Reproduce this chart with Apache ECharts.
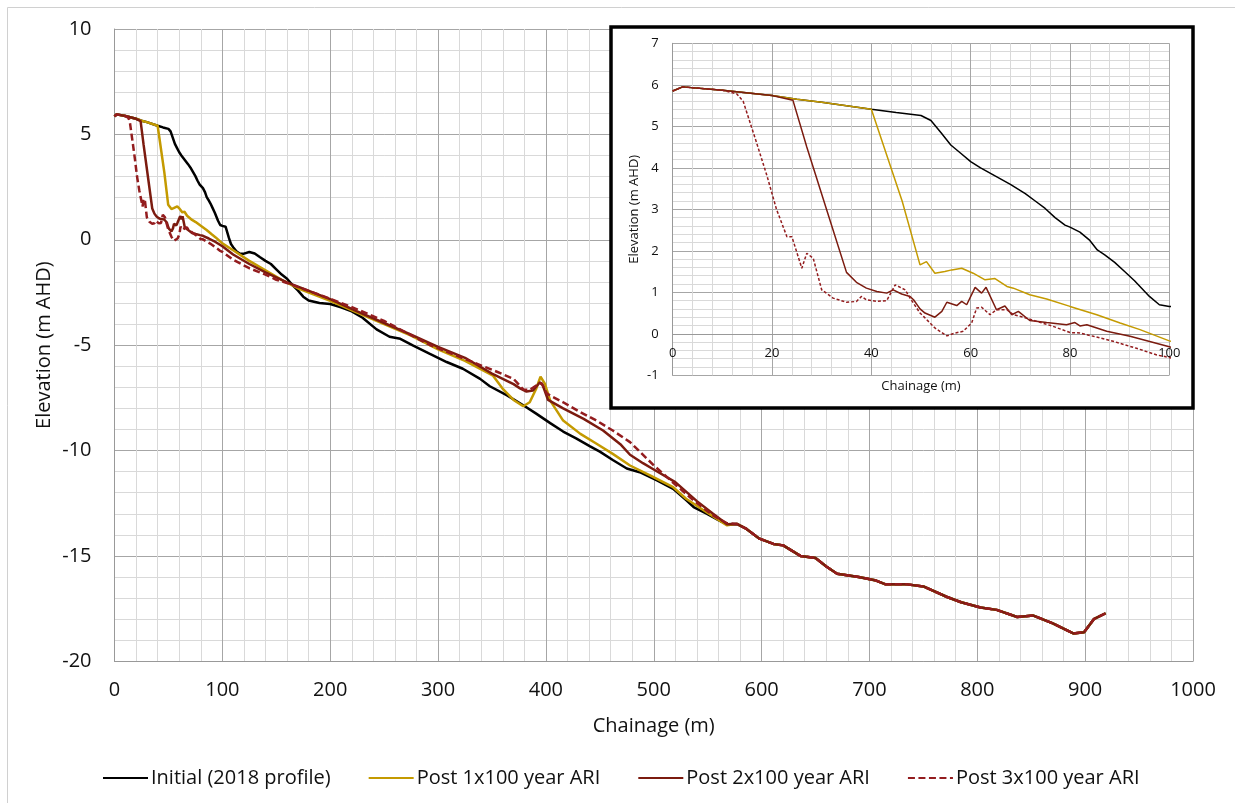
<!DOCTYPE html>
<html>
<head>
<meta charset="utf-8">
<script src="https://cdn.jsdelivr.net/npm/echarts@6/dist/echarts.min.js"></script>
<style>
  html, body { margin: 0; padding: 0; background: #ffffff; }
  #chart { width: 1235px; height: 803px; }
</style>
</head>
<body>
<div id="chart"></div>
<script>
// Beach profile survey: chainage (m) vs elevation (m AHD)
const seriesNames = ['Initial (2018 profile)', 'Post 1x100 year ARI', 'Post 2x100 year ARI', 'Post 3x100 year ARI'];

// Offshore section shared by every profile (no change past the bar)
const sharedToe = [
  [577, -13.48], [586, -13.72], [598, -14.18], [611, -14.43], [620, -14.5], [636, -15.0],
  [650, -15.1], [660, -15.5], [670, -15.85], [690, -16.0], [705, -16.15], [715, -16.35],
  [735, -16.35], [750, -16.45], [772, -16.95], [785, -17.2], [803, -17.45], [818, -17.56],
  [837, -17.9], [852, -17.83], [870, -18.2], [889, -18.68], [899, -18.62], [908, -18.0], [919, -17.72]
];

const initialProfile = [
  [0, 5.85], [2, 5.95], [10, 5.87], [20, 5.74], [25, 5.65], [30, 5.58], [40, 5.41], [45, 5.33],
  [50, 5.26], [52, 5.14], [54, 4.85], [56, 4.55], [58, 4.35], [60, 4.15], [62, 4.0], [65, 3.8],
  [68, 3.6], [71, 3.38], [73, 3.2], [75, 3.02], [77, 2.8], [79, 2.62], [80, 2.57], [82, 2.45],
  [84, 2.25], [85.5, 2.02], [87, 1.9], [89, 1.72], [91, 1.5], [93, 1.28], [96, 0.9], [98, 0.7],
  [100, 0.66], [103, 0.62], [106, 0.1], [108, -0.2], [110, -0.35], [113, -0.55], [116, -0.65],
  [120, -0.66], [125, -0.58], [130, -0.65], [135, -0.83], [140, -1.0], [145, -1.15], [150, -1.4],
  [155, -1.65], [160, -1.85], [165, -2.15], [170, -2.4], [175, -2.7], [180, -2.88], [190, -3.0],
  [200, -3.05], [210, -3.2], [220, -3.4], [230, -3.7], [243, -4.25], [255, -4.6], [265, -4.7],
  [277, -5.02], [292, -5.4], [308, -5.8], [323, -6.12], [339, -6.6], [348, -6.95], [364, -7.38],
  [379, -7.85], [391, -8.25], [404, -8.7], [416, -9.1], [428, -9.42], [441, -9.8], [450, -10.05],
  [462, -10.45], [475, -10.85], [487, -11.03], [503, -11.42], [518, -11.82], [530, -12.35],
  [537, -12.68], [549, -13.0], [560, -13.3], [568, -13.5]
];

const post1Profile = [
  [0, 5.85], [2, 5.95], [10, 5.87], [20, 5.74], [25, 5.65], [30, 5.58], [40, 5.41], [46.2, 3.2],
  [49.8, 1.66], [51.1, 1.74], [52.8, 1.46], [54.8, 1.5], [56.2, 1.54], [58.2, 1.58], [60.5, 1.46],
  [62.9, 1.3], [64.9, 1.33], [67.3, 1.14], [68.6, 1.1], [71.9, 0.94], [75.3, 0.84], [80, 0.66],
  [85.4, 0.46], [90.1, 0.26], [94.1, 0.1], [100, -0.17], [110, -0.5], [125, -1.0], [140, -1.45],
  [155, -1.9], [170, -2.3], [200, -2.9], [225, -3.45], [250, -4.0], [275, -4.55], [300, -5.2],
  [325, -5.75], [351, -6.45], [360.5, -7.1], [370, -7.6], [379, -7.9], [385, -7.71], [391, -7.07],
  [395, -6.49], [399, -6.83], [404, -7.63], [416, -8.58], [432, -9.21], [447, -9.68], [462, -10.16],
  [478, -10.71], [497, -11.19], [518, -11.74], [530, -12.29], [549, -12.93], [568, -13.55]
];

const post2Profile = [
  [0, 5.85], [2, 5.95], [10, 5.87], [20, 5.74], [24.2, 5.63], [27, 4.5], [31, 2.99], [35, 1.48],
  [37, 1.24], [39, 1.1], [41.1, 1.02], [43.1, 0.98], [44.4, 1.06], [46.1, 0.96], [47.8, 0.9],
  [48.5, 0.82], [49.8, 0.6], [50.8, 0.5], [52.8, 0.4], [54.2, 0.54], [55.2, 0.76], [57.2, 0.68],
  [58.2, 0.78], [59.2, 0.7], [60.9, 1.12], [62.2, 0.98], [63.1, 1.12], [65.2, 0.58], [66.9, 0.67],
  [68.3, 0.46], [69.6, 0.54], [71.9, 0.32], [75.3, 0.27], [79.3, 0.22], [81, 0.27], [82, 0.19],
  [83.4, 0.22], [87.4, 0.06], [92.1, -0.06], [100, -0.31], [110, -0.7], [125, -1.15], [140, -1.55],
  [160, -2.02], [200, -2.82], [225, -3.4], [250, -3.95], [275, -4.5], [300, -5.08], [325, -5.6],
  [350, -6.35], [360, -6.6], [370, -6.85], [376, -7.05], [382, -7.2], [388, -7.15], [394.5, -6.76],
  [397, -6.9], [402, -7.6], [416, -8.0], [435, -8.5], [453, -9.05], [469, -9.7], [478, -10.2],
  [490, -10.6], [500, -10.9], [520, -11.5], [540, -12.4], [555, -13.0], [568, -13.5]
];

const post3Profile = [
  [0, 5.85], [2, 5.95], [10, 5.87], [12.9, 5.78], [14.2, 5.6], [16.9, 4.6], [19, 3.8], [20.9, 3.0],
  [23, 2.34], [24, 2.34], [26, 1.58], [27, 1.94], [28.3, 1.82], [30, 1.06], [32.3, 0.86], [35, 0.76],
  [37, 0.78], [38, 0.9], [39, 0.82], [41.1, 0.78], [43.1, 0.8], [44.8, 1.18], [46.8, 1.06],
  [47.8, 0.86], [49.8, 0.5], [50.5, 0.42], [52.8, 0.14], [55.2, -0.05], [56.9, 0.02], [58.5, 0.06],
  [60.2, 0.26], [61.2, 0.62], [62.2, 0.64], [63.9, 0.46], [65.2, 0.58], [67.3, 0.58], [68.6, 0.46],
  [70.6, 0.4], [73.3, 0.3], [76.6, 0.18], [80, 0.03], [82, 0.02], [84.7, -0.06], [88.7, -0.18],
  [93.4, -0.35], [97.5, -0.51], [100, -0.57], [110, -0.95], [125, -1.35], [140, -1.65], [150, -1.9],
  [160, -2.05], [200, -2.8], [225, -3.3], [250, -3.85], [274, -4.5], [292, -4.98], [323, -5.62],
  [354, -6.25], [370, -6.6], [379, -7.1], [385, -7.12], [391, -6.92], [396, -6.8], [401, -7.3],
  [404, -7.39], [416, -7.71], [432, -8.18], [447, -8.58], [462, -9.05], [478, -9.6], [500, -10.7],
  [521, -11.66], [537, -12.37], [555, -13.08], [568, -13.45]
];

const profiles = [
  initialProfile.concat(sharedToe),
  post1Profile.concat(sharedToe),
  post2Profile.concat(sharedToe),
  post3Profile.concat(sharedToe)
];

const lineColors = ['#000000', '#C49A00', '#7B1B0F', '#931C1E'];
const FONT = 'Open Sans';
// legend keys: plain stroke for the solid profiles, five dashes for the dashed one
const solidKey = 'path://M0 0h45v1h-45z';
const dashedKey = 'path://M0 0h6v1h-6zM9.5 0h6v1h-6zM19 0h6v1h-6zM28.5 0h6v1h-6zM38 0h7v1h-7z';

function axisCommon(fontSize) {
  return {
    axisTick: { show: false },
    minorTick: { show: false, splitNumber: 5 },
    splitLine: { show: true, lineStyle: { color: '#A6A6A6', width: 1 } },
    minorSplitLine: { show: true, lineStyle: { color: '#D9D9D9', width: 1 } },
    axisLabel: { color: '#111', fontFamily: FONT, fontSize: fontSize, formatter: function (v) { return String(v); } },
    nameTextStyle: { color: '#111', fontFamily: FONT, fontSize: fontSize },
    nameMoveOverlap: false
  };
}

const mainX = Object.assign(axisCommon(20), {
  type: 'value', gridIndex: 0, min: 0, max: 1000, interval: 100,
  name: 'Chainage (m)', nameLocation: 'middle', nameGap: 55,
  axisLine: { show: true, onZero: false, lineStyle: { color: '#999', width: 1 } }
});
mainX.axisLabel.margin = 19;

const mainY = Object.assign(axisCommon(20), {
  type: 'value', gridIndex: 0, min: -20, max: 10, interval: 5,
  name: 'Elevation (m AHD)', nameLocation: 'middle', nameGap: 60,
  axisLine: { show: true, onZero: false, lineStyle: { color: '#999', width: 1 } }
});
mainY.axisLabel.margin = 23;

// inset chainage axis sits on the 0 m AHD line (one unit above the plot floor)
const insetX = Object.assign(axisCommon(13), {
  type: 'value', gridIndex: 1, min: 0, max: 100, interval: 20, z: 11,
  name: 'Chainage (m)', nameLocation: 'middle', nameGap: 46, offset: -41.5,
  axisLine: { show: true, onZero: false, lineStyle: { color: '#999', width: 1 } }
});
insetX.axisLabel.margin = 13;

const insetY = Object.assign(axisCommon(13), {
  type: 'value', gridIndex: 1, min: -1, max: 7, interval: 1, z: 11,
  name: 'Elevation (m AHD)', nameLocation: 'middle', nameGap: 32,
  axisLine: { show: true, onZero: false, lineStyle: { color: '#999', width: 1 } }
});
insetY.axisLabel.margin = 14;

const series = [];
profiles.forEach(function (data, i) {
  series.push({
    name: seriesNames[i], type: 'line', xAxisIndex: 0, yAxisIndex: 0,
    data: data, symbol: 'none', smooth: false, z: 2 + i * 0.1,
    legendIcon: i === 3 ? dashedKey : solidKey,
    lineStyle: { color: lineColors[i], width: 2.5, type: i === 3 ? [7, 3.5] : 'solid' },
    itemStyle: { color: lineColors[i] }
  });
});
profiles.forEach(function (data, i) {
  series.push({
    name: seriesNames[i], type: 'line', xAxisIndex: 1, yAxisIndex: 1,
    data: data, symbol: 'none', smooth: false, clip: true, z: 12 + i * 0.1,
    legendIcon: i === 3 ? dashedKey : solidKey,
    lineStyle: { color: lineColors[i], width: 1.5, type: i === 3 ? [3, 2] : 'solid' },
    itemStyle: { color: lineColors[i] }
  });
});

const chart = echarts.init(document.getElementById('chart'), null, { renderer: 'canvas' });
chart.setOption({
  animation: false,
  backgroundColor: '#ffffff',
  textStyle: { fontFamily: FONT },
  grid: [
    { left: 114.5, top: 29, width: 1078.5, height: 632.3 },
    { left: 672.7, top: 43.3, width: 496.6, height: 332, z: 11 }
  ],
  xAxis: [mainX, insetX],
  yAxis: [mainY, insetY],
  legend: {
    data: seriesNames,
    left: 97, top: 763,
    itemWidth: 45, itemHeight: 2.5, itemGap: 37,
    textStyle: { color: '#111', fontFamily: FONT, fontSize: 20, padding: [0, 0, 0, -2] }
  },
  graphic: [
    {
      type: 'rect', z: -1, silent: true,
      shape: { x: 7.5, y: 7.5, width: 1300, height: 900 },
      style: { fill: 'none', stroke: '#D0D0D0', lineWidth: 1 }
    },
    {
      type: 'rect', z: 10, silent: true,
      shape: { x: 611, y: 27, width: 582, height: 381 },
      style: { fill: '#ffffff', stroke: '#000000', lineWidth: 3.5 }
    }
  ],
  series: series
});
</script>
</body>
</html>
